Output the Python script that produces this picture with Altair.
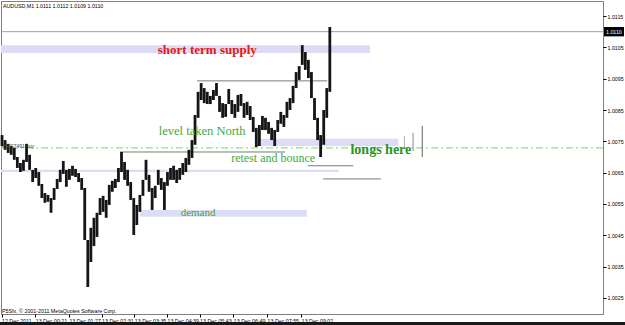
import json
import altair as alt
import pandas as pd

# ---------------- data ----------------
# AUDUSD M1, grouped into 6-minute bars; time = minutes from 13 Dec 2011 00:00
bar_time = list(range(-44, -44 + 6 * 108, 6))
bar_high = [1.00770, 1.00754, 1.00742, 1.00735, 1.00729, 1.00700, 1.00681, 1.00691, 1.00742, 1.00707,
            1.00659, 1.00665, 1.00652, 1.00614, 1.00585, 1.00579, 1.00569, 1.00601, 1.00630, 1.00659,
            1.00687, 1.00659, 1.00662, 1.00672, 1.00662, 1.00649, 1.00633, 1.00601, 1.00435, 1.00474,
            1.00506, 1.00522, 1.00569, 1.00576, 1.00563, 1.00611, 1.00624, 1.00630, 1.00665, 1.00716,
            1.00684, 1.00659, 1.00620, 1.00569, 1.00547, 1.00579, 1.00627, 1.00691, 1.00643, 1.00601,
            1.00608, 1.00659, 1.00633, 1.00620, 1.00652, 1.00665, 1.00672, 1.00659, 1.00665, 1.00681,
            1.00697, 1.00723, 1.00754, 1.00834, 1.00908, 1.00936, 1.00920, 1.00908, 1.00895, 1.00914,
            1.00936, 1.00895, 1.00872, 1.00869, 1.00917, 1.00882, 1.00869, 1.00898, 1.00901, 1.00872,
            1.00876, 1.00863, 1.00828, 1.00793, 1.00802, 1.00831, 1.00825, 1.00812, 1.00793, 1.00786,
            1.00818, 1.00844, 1.00834, 1.00876, 1.00888, 1.00927, 1.00971, 1.00990, 1.01057, 1.01035,
            1.01010, 1.00971, 1.00888, 1.00825, 1.00770, 1.00850, 1.00920, 1.01115]
bar_low = [1.00735, 1.00723, 1.00713, 1.00707, 1.00691, 1.00665, 1.00652, 1.00656, 1.00684, 1.00659,
           1.00620, 1.00633, 1.00608, 1.00569, 1.00554, 1.00557, 1.00522, 1.00563, 1.00598, 1.00620,
           1.00646, 1.00605, 1.00627, 1.00640, 1.00636, 1.00620, 1.00595, 1.00435, 1.00285, 1.00365,
           1.00416, 1.00445, 1.00515, 1.00525, 1.00506, 1.00547, 1.00589, 1.00601, 1.00620, 1.00652,
           1.00627, 1.00608, 1.00563, 1.00451, 1.00483, 1.00525, 1.00576, 1.00627, 1.00589, 1.00531,
           1.00569, 1.00611, 1.00595, 1.00531, 1.00608, 1.00627, 1.00627, 1.00617, 1.00627, 1.00643,
           1.00652, 1.00675, 1.00697, 1.00739, 1.00825, 1.00882, 1.00872, 1.00869, 1.00869, 1.00882,
           1.00895, 1.00844, 1.00825, 1.00828, 1.00869, 1.00837, 1.00825, 1.00844, 1.00863, 1.00825,
           1.00834, 1.00818, 1.00780, 1.00732, 1.00735, 1.00786, 1.00786, 1.00774, 1.00754, 1.00735,
           1.00780, 1.00806, 1.00796, 1.00825, 1.00850, 1.00872, 1.00920, 1.00946, 1.00994, 1.00978,
           1.00952, 1.00888, 1.00818, 1.00754, 1.00700, 1.00739, 1.00825, 1.00908]

# time axis labels
tick_time = [-45, 21, 87, 151, 215, 279, 343, 409, 475, 542]
tick_label = ["12 Dec 2011", "13 Dec 00:21", "13 Dec 01:27", "13 Dec 02:31", "13 Dec 03:35",
              "13 Dec 04:39", "13 Dec 05:43", "13 Dec 06:49", "13 Dec 07:55", "13 Dec 09:02"]
price_ticks = [1.0025, 1.0035, 1.0045, 1.0055, 1.0065, 1.0075, 1.0085, 1.0095, 1.0105, 1.0115]

# shaded zones
band_start = [-46, 456, -46, 226]
band_end = [677, 732, 616, 553]
band_top = [1.01057, 1.00758, 1.00659, 1.00531]
band_bottom = [1.01032, 1.00735, 1.00652, 1.00509]

# horizontal drawn lines
hline_start = [338, 187, 555, 585]
hline_end = [593, 510, 644, 698]
hline_price = [1.00943, 1.00716, 1.00672, 1.00630]

# vertical drawn lines
vline_time = [744, 761, 779]
vline_top = [1.00767, 1.00777, 1.00799]
vline_bottom = [1.00732, 1.00719, 1.00700]
vline_color = ["#b4b4b4", "#8c8c8c", "#606060"]

bid_price = 1.0110
order_level = 1.00729
order_label = "#6007491 buy"

# annotations
ann_text = ["short term supply", "level taken North", "retest and bounce", "longs here", "demand"]
ann_time = [358, 348, 487, 698, 340]
ann_price = [1.01041, 1.00783, 1.00697, 1.00723, 1.00522]
ann_color = ["#e81818", "#3fa83f", "#3fa83f", "#2a962a", "#3fa83f"]
ann_size = [13, 12.5, 12, 14, 11]
ann_bold = [True, False, False, True, False]

header_text = "AUDUSD,M1  1.0111 1.0112 1.0109 1.0110"
copyright_text = "P5Sfx, \u00a9 2001-2011 MetaQuotes Software Corp."

# ---------------- chart ----------------
UI = "Liberation Sans, Arial, sans-serif"
UI_SIZE = 5.3
SERIF = "Liberation Serif, Times New Roman, serif"

xs = alt.Scale(domain=[-46, 1133], nice=False, zero=False)
ys = alt.Scale(domain=[1.001989, 1.011979], nice=False, zero=False)

label_expr = "{}[indexof({}, datum.value)]".format(json.dumps(tick_label), json.dumps(tick_time))

x_axis = alt.Axis(values=tick_time, labelExpr=label_expr, labelAlign="left", labelBaseline="top",
                  labelFont=UI, labelFontSize=UI_SIZE, labelColor="#000", labelPadding=1,
                  tickSize=3, tickColor="#000", domain=False, grid=False, title=None,
                  labelOverlap=False, labelFlush=False, labelBound=False)
y_axis = alt.Axis(orient="right", values=price_ticks, format=".4f", labelFont=UI, labelFontSize=UI_SIZE,
                  labelColor="#000", labelPadding=1, tickSize=3, tickColor="#000", domain=False,
                  grid=False, title=None, labelOverlap=False, labelFlush=False, labelBound=False)


def X(field):
    return alt.X(field, scale=xs, axis=x_axis)


def Y(field):
    return alt.Y(field, scale=ys, axis=y_axis)


bands_df = pd.DataFrame({"t": band_start, "t2": band_end, "p": band_top, "p2": band_bottom})
bands = alt.Chart(bands_df).mark_rect(color="#dcdcf6").encode(
    x=X("t:Q"), x2="t2:Q", y=Y("p:Q"), y2="p2:Q")

bid_df = pd.DataFrame({"p": [bid_price]})
bid_line = alt.Chart(bid_df).mark_rule(color="#a0a0a0", strokeWidth=1).encode(y=Y("p:Q"))

order_df = pd.DataFrame({"p": [order_level], "lab": [order_label], "t": [-43]})
order_line = alt.Chart(order_df).mark_rule(color="#6fdc6f", strokeWidth=1, strokeDash=[7, 3, 2, 3]).encode(
    y=Y("p:Q"))
order_txt = alt.Chart(order_df).mark_text(align="left", baseline="bottom", font=UI, fontSize=5,
                                          color="#444", dy=1).encode(
    x=X("t:Q"), y=Y("p:Q"), text="lab:N")

hl_df = pd.DataFrame({"t": hline_start, "t2": hline_end, "p": hline_price})
hlines = alt.Chart(hl_df).mark_rule(color="#7a7a7a", strokeWidth=1).encode(
    x=X("t:Q"), x2="t2:Q", y=Y("p:Q"))

vl_df = pd.DataFrame({"t": vline_time, "p": vline_top, "p2": vline_bottom, "c": vline_color})
vlines = alt.Chart(vl_df).mark_rule(strokeWidth=1).encode(
    x=X("t:Q"), y=Y("p:Q"), y2="p2:Q", color=alt.Color("c:N", scale=None))

bars_df = pd.DataFrame({"t": bar_time, "hi": bar_high, "lo": bar_low})
bars = alt.Chart(bars_df).mark_rule(color="#151515", strokeWidth=2.8).encode(
    x=X("t:Q"), y=Y("hi:Q"), y2="lo:Q")

ann_df = pd.DataFrame({"t": ann_time, "p": ann_price, "txt": ann_text, "c": ann_color,
                       "s": ann_size, "b": ann_bold})


def ann_layer(bold):
    return alt.Chart(ann_df[ann_df["b"] == bold]).mark_text(
        font=SERIF, fontWeight="bold" if bold else "normal", align="center", baseline="middle").encode(
        x=X("t:Q"), y=Y("p:Q"), text="txt:N",
        color=alt.Color("c:N", scale=None), size=alt.Size("s:Q", scale=None))


box_df = pd.DataFrame({"p": [bid_price + 0.00015], "p2": [bid_price - 0.00015],
                       "pc": [bid_price], "lab": ["%.4f" % bid_price]})
price_box = alt.Chart(box_df).mark_rect(color="#000000").encode(
    x=alt.value(603), x2=alt.value(623), y=Y("p:Q"), y2="p2:Q")
price_box_txt = alt.Chart(box_df).mark_text(color="white", font=UI, fontSize=UI_SIZE, align="left",
                                            baseline="middle").encode(
    x=alt.value(605), y=Y("pc:Q"), text="lab:N")

one = pd.DataFrame({"a": [0]})
header = alt.Chart(one).mark_text(text=header_text, align="left", baseline="middle", font=UI,
                                  fontSize=UI_SIZE, color="#000").encode(x=alt.value(2), y=alt.value(5))
copyright = alt.Chart(one).mark_text(text=copyright_text, align="left", baseline="middle", font=UI,
                                     fontSize=UI_SIZE, color="#000").encode(x=alt.value(1), y=alt.value(310))
bottom_bar = alt.Chart(one).mark_rect(color="#1a1a1a").encode(
    x=alt.value(-1), x2=alt.value(624), y=alt.value(321), y2=alt.value(324))

chart = alt.layer(
    bands, bid_line, order_line, hlines, vlines, bars, order_txt,
    ann_layer(False), ann_layer(True), price_box, price_box_txt, header, copyright, bottom_bar
).properties(
    width=602, height=313, autosize="none",
    padding={"left": 1, "top": 1, "right": 22, "bottom": 11},
    background="white"
).configure_view(stroke="#808080", strokeWidth=1)

chart.save("out.html", embed_options={"renderer": "svg", "actions": False})
